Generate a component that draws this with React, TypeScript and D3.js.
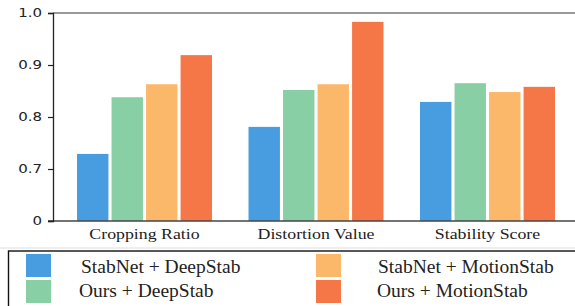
import { useRef, useEffect } from 'react'
import * as d3 from 'd3'

const categories = ['Cropping Ratio', 'Distortion Value', 'Stability Score']
const seriesNames = ['StabNet + DeepStab', 'Ours + DeepStab', 'StabNet + MotionStab', 'Ours + MotionStab']
const stabnetDeep = [0.729, 0.781, 0.829]
const oursDeep = [0.838, 0.852, 0.865]
const stabnetMotion = [0.863, 0.863, 0.848]
const oursMotion = [0.919, 0.983, 0.858]
const tickValues = [0.6, 0.7, 0.8, 0.9, 1.0]
const tickLabels = ['0', '0.7', '0.8', '0.9', '1.0']
const colors = ['#479ddf', '#88cfa5', '#fcb86a', '#f57748']

export default function App() {
  const ref = useRef<SVGSVGElement>(null)

  useEffect(() => {
    if (!ref.current) return
    const svg = d3.select(ref.current)
    svg.selectAll('*').remove()

    const W = 575
    const top = 13
    const bottom = 221
    const left = 53
    const values = [stabnetDeep, oursDeep, stabnetMotion, oursMotion]

    const y = d3.scaleLinear().domain([0.6, 1.0]).range([bottom, top])
    const x0 = d3
      .scaleBand()
      .domain(categories)
      .range([58.75, 573.25])
      .paddingInner(0.213)
      .paddingOuter(0.1065)
    const x1 = d3.scaleBand().domain(seriesNames).range([0, x0.bandwidth()]).paddingInner(0.09)

    // bars
    categories.forEach((cat, ci) => {
      seriesNames.forEach((s, si) => {
        const v = values[si][ci]
        svg
          .append('rect')
          .attr('x', x0(cat)! + x1(s)!)
          .attr('y', y(v))
          .attr('width', x1.bandwidth())
          .attr('height', bottom - y(v))
          .attr('fill', colors[si])
      })
    })

    // top frame line
    svg
      .append('line')
      .attr('x1', left)
      .attr('x2', W)
      .attr('y1', top)
      .attr('y2', top)
      .attr('stroke', '#777')
      .attr('stroke-width', 1.6)

    // bottom axis line
    svg
      .append('line')
      .attr('x1', left - 5)
      .attr('x2', W)
      .attr('y1', bottom)
      .attr('y2', bottom)
      .attr('stroke', '#444')
      .attr('stroke-width', 1.3)

    // y axis (labels are drawn a little stretched, like the source image)
    const yAxis = svg
      .append('g')
      .attr('transform', `translate(${left},0)`)
      .call(
        d3
          .axisLeft(y)
          .tickValues(tickValues)
          .tickSize(5)
          .tickFormat((_, i) => tickLabels[i])
      )
    yAxis.select('.domain').attr('stroke', '#222').attr('stroke-width', 1.3)
    yAxis.selectAll('.tick line').attr('stroke', '#222').attr('stroke-width', 1.2)
    yAxis
      .selectAll('.tick text')
      .attr('x', -11 / 1.25)
      .attr('transform', 'scale(1.25,1)')
      .attr('font-family', 'DejaVu Sans, sans-serif')
      .attr('font-size', '12px')
      .attr('fill', '#222')

    // category labels
    categories.forEach((cat) => {
      svg
        .append('text')
        .attr('transform', `translate(${x0(cat)! + x0.bandwidth() / 2},239) scale(1.15,1)`)
        .attr('text-anchor', 'middle')
        .attr('font-family', 'Liberation Serif, Times New Roman, serif')
        .attr('font-size', '15.5px')
        .attr('fill', '#222')
        .text(cat)
    })

    // separator line
    svg
      .append('line')
      .attr('x1', 0)
      .attr('x2', W)
      .attr('y1', 248)
      .attr('y2', 248)
      .attr('stroke', '#ddd')
      .attr('stroke-width', 1)

    // legend
    svg
      .append('rect')
      .attr('x', 8.5)
      .attr('y', 251)
      .attr('width', 580)
      .attr('height', 70)
      .attr('fill', 'none')
      .attr('stroke', '#111')
      .attr('stroke-width', 1.4)

    const legendPos = [
      { sx: 26, tx: 81, sy: 254, ty: 273 },
      { sx: 26, tx: 79, sy: 280, ty: 297 },
      { sx: 316, tx: 378, sy: 254, ty: 273 },
      { sx: 316, tx: 377, sy: 280, ty: 297 },
    ]
    seriesNames.forEach((s, i) => {
      const p = legendPos[i]
      svg
        .append('rect')
        .attr('x', p.sx)
        .attr('y', p.sy)
        .attr('width', 25)
        .attr('height', 23)
        .attr('fill', colors[i])
      svg
        .append('text')
        .attr('x', p.tx)
        .attr('y', p.ty)
        .attr('font-family', 'Liberation Serif, Times New Roman, serif')
        .attr('font-size', '19.5px')
        .attr('fill', '#222')
        .text(s)
    })
  }, [])

  return (
    <svg
      ref={ref}
      width={575}
      height={306}
      style={{ position: 'absolute', left: 0, top: 0, background: '#fff' }}
    />
  )
}
